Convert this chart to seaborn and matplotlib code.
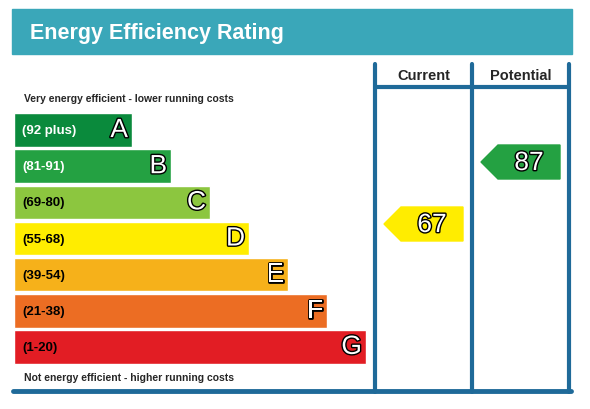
import matplotlib
matplotlib.use("Agg")
import matplotlib.pyplot as plt
import matplotlib.patheffects as pe
from matplotlib.patches import Polygon, Rectangle
import seaborn as sns
import pandas as pd

letters = ["A", "B", "C", "D", "E", "F", "G"]
ranges = ["(92 plus)", "(81-91)", "(69-80)", "(55-68)", "(39-54)", "(21-38)", "(1-20)"]
range_colors = ["white", "white", "black", "black", "black", "black", "black"]
bar_len = [118, 157, 196, 235, 274, 313, 352]
colors = ["#0a8a3c", "#24a142", "#8cc63f", "#ffed00", "#f6b11a", "#ec6d23", "#e21d24"]
current, potential = 67, 87
current_band, potential_band = 3, 1

sns.set_theme(style="white")
plt.rcParams["font.family"] = ["Liberation Sans", "DejaVu Sans"]

fig = plt.figure(figsize=(5.9, 4.1), dpi=100)
ax = fig.add_axes([0, 0, 1, 1])
ax.set_xlim(0, 590)
ax.set_ylim(410, 0)
ax.axis("off")

blue = "#1f6a99"
# title bar
ax.add_patch(Rectangle((12, 10), 560, 45, color="#3aa7b9"))
ax.text(30, 33, "Energy Efficiency Rating", color="white", fontsize=15.5,
        fontweight="bold", va="center")
# frame: columns and bottom line only
for x in [375, 472, 569]:
    ax.plot([x, x], [65, 393], color=blue, lw=3)
ax.plot([13, 571], [392, 392], color=blue, lw=3.5)
ax.plot([375, 569], [88, 88], color=blue, lw=3)
ax.text(424, 76, "Current", fontsize=10.5, fontweight="bold", ha="center", va="center")
ax.text(521, 76, "Potential", fontsize=10.5, fontweight="bold", ha="center", va="center")
ax.text(24, 99, "Very energy efficient - lower running costs", fontsize=7.5,
        fontweight="bold", va="center")
ax.text(24, 378, "Not energy efficient - higher running costs", fontsize=7.5,
        fontweight="bold", va="center")

# bands
bx = fig.add_axes([14 / 590, 1 - 366 / 410, 361 / 590, 253 / 410])
df = pd.DataFrame({"letter": letters, "len": bar_len})
sns.barplot(data=df, x="len", y="letter", hue="letter", palette=colors,
            width=0.93, legend=False, ax=bx, saturation=1)
bx.set_xlim(0, 361)
bx.axis("off")
outline = [pe.withStroke(linewidth=2, foreground="black")]
for i, (l, r, n, tc) in enumerate(zip(letters, ranges, bar_len, range_colors)):
    bx.text(8, i, r, color=tc, fontsize=9.5, fontweight="bold", va="center")
    bx.text(n - 4, i, l, color="white", fontsize=19, ha="right", va="center",
            path_effects=outline)

# arrows
def arrow(x0, yc, val, col):
    h, w = 34, 79
    ax.add_patch(Polygon([(x0, yc), (x0 + 17, yc - h / 2), (x0 + w, yc - h / 2),
                          (x0 + w, yc + h / 2), (x0 + 17, yc + h / 2)], color=col))
    ax.text(x0 + 48, yc + 1, str(val), color="white", fontsize=19, ha="center",
            va="center", path_effects=outline)

arrow(384, 225, current, colors[current_band])
arrow(481, 163, potential, colors[potential_band])

fig.savefig("out.png", dpi=100, facecolor="white")
